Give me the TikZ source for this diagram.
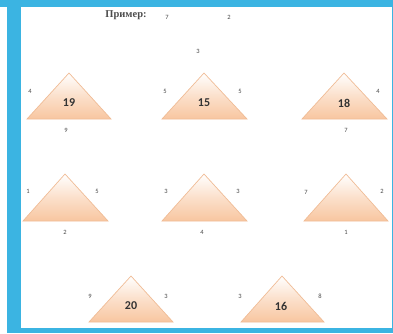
\documentclass[tikz,border=0pt]{standalone}
\usepackage{fontspec}
\setmainfont{Carlito}
\newfontfamily\rufont{Liberation Serif}
\usepackage{tikz}

\definecolor{frameblue}{RGB}{59,180,226}
\definecolor{peach}{RGB}{248,198,160}
\definecolor{peachedge}{RGB}{240,188,150}
\definecolor{labelgrey}{RGB}{70,70,70}

\begin{document}
\begin{tikzpicture}[
		x=1pt, y=-1pt,
		tri/.style={
			draw=peachedge,
			line width=0.7pt,
			top color=white,
			bottom color=peach,
			middle color=peach!55
		},
		num/.style={
			font=\fontsize{12}{12}\selectfont\bfseries,
			text=black!80,
			inner sep=0pt
		},
		side/.style={
			font=\fontsize{6.5}{7}\selectfont,
			text=labelgrey,
			inner sep=0pt
		},
		title/.style={
			font=\rufont\fontsize{10.5}{11}\selectfont\bfseries,
			text=black!70,
			inner sep=0pt
		}
		]
		\useasboundingbox (0,0) rectangle (393,333);
		
		% Frame
		\fill[frameblue] (0,0) rectangle (393,7);
		\fill[frameblue] (7,7) rectangle (21,333);
		\fill[frameblue] (21,328) rectangle (393,333);
		\fill[frameblue] (391.5,7) rectangle (393,328);
		
		% Example
		\node[title] at (126,15) (example) {Пример:};
		\node[side] at (167,17) (ex7) {7};
		\node[side] at (229,17) (ex2) {2};
		\node[side] at (198,51) (ex3) {3};
		
		% Triangles
		\shadedraw[tri] (69,73) -- (27,119) -- (111,119) -- cycle;
		\shadedraw[tri] (204,73) -- (162,119) -- (247,119) -- cycle;
		\shadedraw[tri] (344,73) -- (302,119) -- (387,119) -- cycle;
		\shadedraw[tri] (65,174) -- (23,221) -- (108,221) -- cycle;
		\shadedraw[tri] (204,174) -- (162,221) -- (247,221) -- cycle;
		\shadedraw[tri] (346,174) -- (304,221) -- (388,221) -- cycle;
		\shadedraw[tri] (131,276) -- (89,322) -- (173,322) -- cycle;
		\shadedraw[tri] (282,276) -- (241,322) -- (324,322) -- cycle;
		
		% Numbers
		\node[num] at (69,103) (sum19) {19};
		\node[num] at (204,103) (sum15) {15};
		\node[num] at (344,103) (sum18) {18};
		\node[num] at (131,306) (sum20) {20};
		\node[num] at (281,306) (sum16) {16};
		
		% Side labels
		\node[side] at (30,91) (a4) {4};
		\node[side] at (66,130) (a9) {9};
		\node[side] at (165,91) (b5) {5};
		\node[side] at (240,91) (b5r) {5};
		\node[side] at (378,91) (c4) {4};
		\node[side] at (346,130) (c7) {7};
		
		\node[side] at (28,191) (d1) {1};
		\node[side] at (97,191) (d5) {5};
		\node[side] at (65,232) (d2) {2};
		\node[side] at (166,191) (e3) {3};
		\node[side] at (238,191) (e3r) {3};
		\node[side] at (202,232) (e4) {4};
		\node[side] at (306,192) (f7) {7};
		\node[side] at (382,191) (f2) {2};
		\node[side] at (346,232) (f1) {1};
		
		\node[side] at (90,296) (g9) {9};
		\node[side] at (166,296) (g3) {3};
		\node[side] at (240,296) (h3) {3};
		\node[side] at (320,296) (h8) {8};
		
	\end{tikzpicture}
\end{document}
